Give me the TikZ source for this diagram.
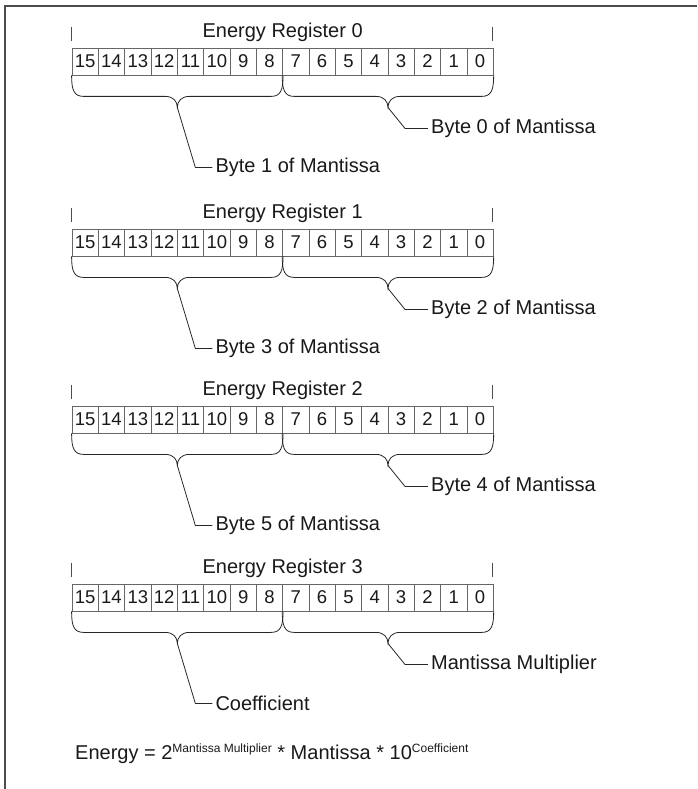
\documentclass[tikz,border=0pt]{standalone}
\usepackage{fontspec}
\setmainfont{Liberation Sans}
\usepackage{tikz}
\usetikzlibrary{calc}

% curly brace under a byte, #3 names its tip
\newcommand{\bytebrace}[3]{%
  \coordinate (#3) at ($(#1)!.5!(#2)+(0,32)$);
  \draw[bracket] (#1) .. controls +(0,14) and +(-10,0) .. ($(#1)+(12,21)$)
    -- ($(#3)+(-12,-11)$) .. controls +(8,0) and +(0,-6) .. (#3)
    .. controls +(0,-6) and +(-8,0) .. ($(#3)+(12,-11)$)
    -- ($(#2)+(-12,21)$) .. controls +(10,0) and +(0,14) .. (#2);
}
\newcommand{\supr}[1]{\raisebox{7pt}{\fontsize{12}{13}\selectfont #1}}

\begin{document}
\begin{tikzpicture}[x=1pt, y=-1pt,
  bitcell/.style={draw=black!60, line width=0.8pt, minimum width=26.33pt, minimum height=27pt, inner sep=0pt, text=black!90, font=\fontsize{18.5}{18}\selectfont},
  regtitle/.style={text=black!90, font=\fontsize{20}{22}\selectfont},
  bytelabel/.style={anchor=west, inner sep=3pt, text=black!90, font=\fontsize{20}{22}\selectfont},
  bracket/.style={draw=black!85, line width=0.8pt},
  leader/.style={draw=black!85, line width=0.8pt},
  tick/.style={draw=black!70, line width=0.8pt},
  frame/.style={draw=black!70, line width=1.2pt}]

\useasboundingbox (0,0) rectangle (697,789);
\draw[frame] (697,6) -- (5,6) -- (5,789);

\foreach \r/\ytop/\hi/\lo in {0/48/Byte 1 of Mantissa/Byte 0 of Mantissa,
                             1/229/Byte 3 of Mantissa/Byte 2 of Mantissa,
                             2/406/Byte 5 of Mantissa/Byte 4 of Mantissa,
                             3/584/Coefficient/Mantissa Multiplier}{
  \foreach \i in {0,...,15}{
    \pgfmathtruncatemacro\bit{15-\i}
    \node[bitcell] (r\r-\bit) at ({72+26.33*(\i+.5)},{\ytop+13.5}) {\bit};
  }
  \node[regtitle] (title\r) at ($(r\r-15.north west)!.5!(r\r-0.north east)+(0,-15)$) {Energy Register \r};
  \draw[tick] ($(r\r-15.north west)+(0,-7)$) -- ($(r\r-15.north west)+(0,-21)$);
  \draw[tick] ($(r\r-0.north east)+(-1.5,-7)$) -- ($(r\r-0.north east)+(-1.5,-21)$);

  \bytebrace{r\r-15.south west}{r\r-8.south east}{hi\r}
  \bytebrace{r\r-7.south west}{r\r-0.south east}{lo\r}

  \node[bytelabel] (hilab\r) at ($(hi\r)+(35,60)$) {\hi};
  \node[bytelabel] (lolab\r) at ($(lo\r)+(40,21)$) {\lo};
  \draw[leader] (hi\r) -- ($(hilab\r.west)+(-17,0)$) -- (hilab\r.west);
  \draw[leader] (lo\r) -- ($(lolab\r.west)+(-23,0)$) -- (lolab\r.west);
}

\node[anchor=base west, inner sep=0pt, text=black!90, font=\fontsize{20}{22}\selectfont] (energy) at (75,759)
  {Energy = 2\supr{Mantissa Multiplier} * Mantissa * 10\supr{Coefficient}};

\end{tikzpicture}
\end{document}
